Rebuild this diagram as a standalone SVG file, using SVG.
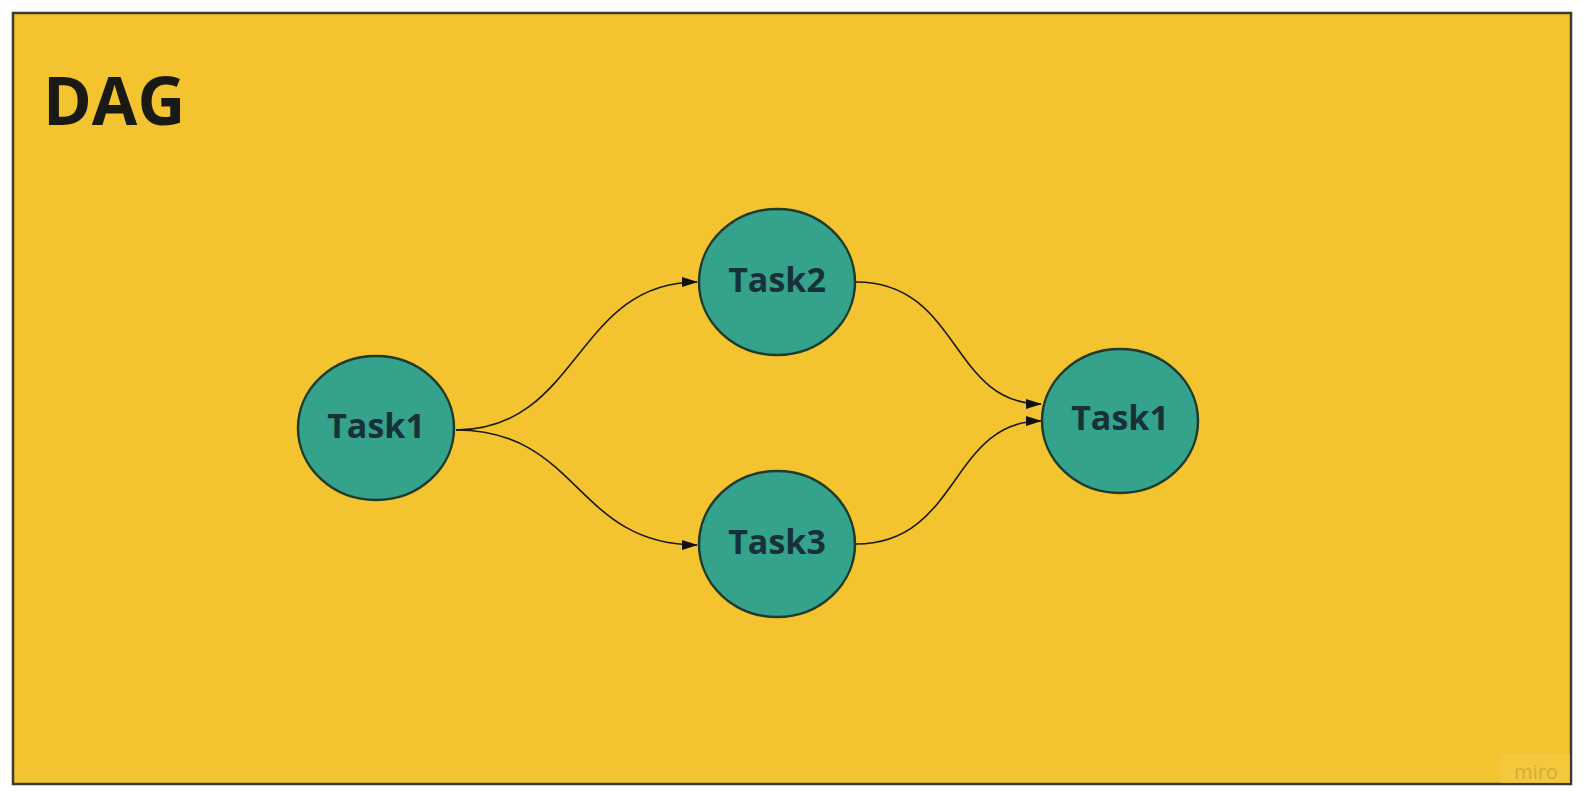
<svg xmlns="http://www.w3.org/2000/svg" width="1586" height="802" viewBox="0 0 1586 802">
  <style>
    .node { fill: #35A28B; stroke: #1E3B2C; stroke-width: 2.5; }
    .label { font-family: "Open Sans", "Liberation Sans", sans-serif; font-weight: 700; font-size: 34px; fill: #163238; text-anchor: middle; }
    .edge { fill: none; stroke: #1a1a1a; stroke-width: 1.6; marker-end: url(#arrow); }
  </style>
  <defs>
    <marker id="arrow" markerWidth="16" markerHeight="10" refX="15" refY="5" orient="auto" markerUnits="userSpaceOnUse">
      <path d="M0,0 L16,5 L0,10 Z" fill="#111"/>
    </marker>
  </defs>
  <rect x="0" y="0" width="1586" height="802" fill="#ffffff"/>
  <rect x="13" y="13" width="1558" height="771" fill="#F3C42F" stroke="#3d3a30" stroke-width="2.5"/>
  <g id="title">
    <text x="43" y="125" font-family="'Open Sans', 'Liberation Sans', sans-serif" font-weight="700" font-size="66" fill="#1a1a14">DAG</text>
  </g>
  <g id="connectors">
    <path class="edge" d="M456,430 C580,430 575,282 697,282"/>
    <path class="edge" d="M456,430 C580,430 575,545 697,545"/>
    <path class="edge" d="M856,282 C960,282 950,404 1041,404"/>
    <path class="edge" d="M856,544 C960,544 950,421 1041,421"/>
  </g>
  <g id="task1-left">
    <ellipse class="node" cx="376" cy="428" rx="78" ry="72"/>
    <text class="label" x="376" y="438">Task1</text>
  </g>
  <g id="task2">
    <ellipse class="node" cx="777" cy="282" rx="78" ry="73"/>
    <text class="label" x="777" y="292">Task2</text>
  </g>
  <g id="task3">
    <ellipse class="node" cx="777" cy="544" rx="78" ry="73"/>
    <text class="label" x="777" y="554">Task3</text>
  </g>
  <g id="task1-right">
    <ellipse class="node" cx="1120" cy="421" rx="78" ry="72"/>
    <text class="label" x="1120" y="430">Task1</text>
  </g>
  <g id="watermark">
    <rect x="1500" y="754" width="70" height="29" fill="#F5CB47" opacity="0.6"/>
    <text x="1536" y="779" font-family="'Open Sans', 'Liberation Sans', sans-serif" font-size="20" fill="#c9a640" text-anchor="middle" opacity="0.8">miro</text>
  </g>
</svg>
